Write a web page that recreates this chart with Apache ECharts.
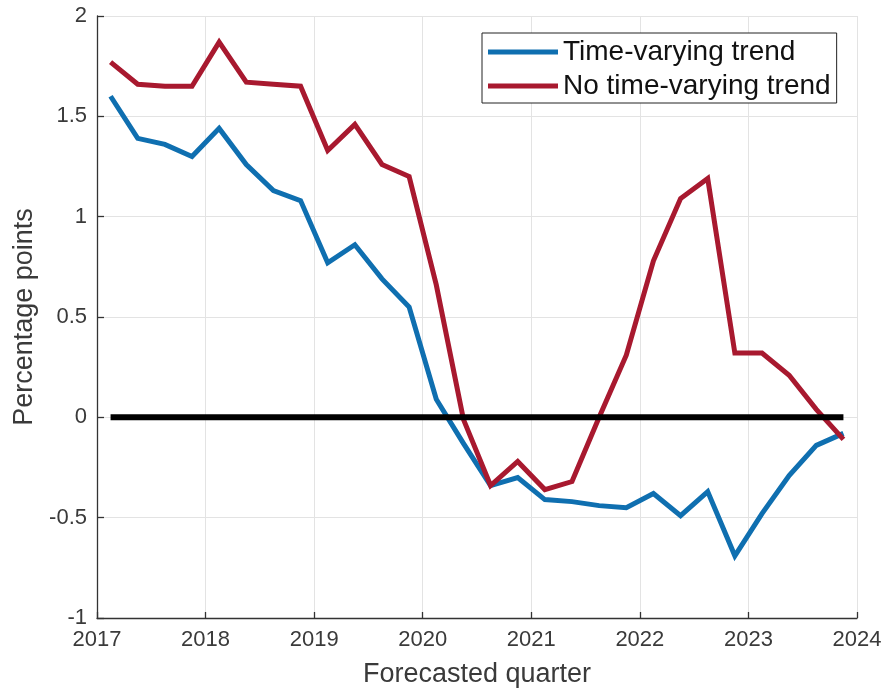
<!DOCTYPE html>
<html>
<head>
<meta charset="utf-8">
<title>Forecast gap by quarter</title>
<script src="https://cdn.jsdelivr.net/npm/echarts@6/dist/echarts.min.js"></script>
<style>
  html, body { margin: 0; padding: 0; background: #fff; }
  #chart { width: 885px; height: 690px; }
</style>
</head>
<body>
<div id="chart"></div>
<script>
// Forecasted quarters (mid-quarter positions in fractional years)
const quarters = [
  2017.125, 2017.375, 2017.625, 2017.875,
  2018.125, 2018.375, 2018.625, 2018.875,
  2019.125, 2019.375, 2019.625, 2019.875,
  2020.125, 2020.375, 2020.625, 2020.875,
  2021.125, 2021.375, 2021.625, 2021.875,
  2022.125, 2022.375, 2022.625, 2022.875,
  2023.125, 2023.375, 2023.625, 2023.875
];

// Percentage points, model with a time-varying trend
const timeVarying = [
  1.60, 1.39, 1.36, 1.30,
  1.44, 1.26, 1.13, 1.08,
  0.77, 0.86, 0.69, 0.55,
  0.09, -0.13, -0.34, -0.30,
  -0.41, -0.42, -0.44, -0.45,
  -0.38, -0.49, -0.37, -0.69,
  -0.48, -0.29, -0.14, -0.08
];

// Percentage points, model without a time-varying trend
const noTimeVarying = [
  1.77, 1.66, 1.65, 1.65,
  1.87, 1.67, 1.66, 1.65,
  1.33, 1.46, 1.26, 1.20,
  0.66, -0.01, -0.34, -0.22,
  -0.36, -0.32, 0.00, 0.31,
  0.78, 1.09, 1.19, 0.32,
  0.32, 0.21, 0.04, -0.11
];

const seriesNames = ['Time-varying trend', 'No time-varying trend'];
const xTicks = { min: 2017, max: 2024, step: 1 };
const yTicks = { min: -1, max: 2, step: 0.5 };

const pair = (xs, ys) => xs.map((x, i) => [x, ys[i]]);
const zeroRef = [[quarters[0], 0], [quarters[quarters.length - 1], 0]];

const FONT = '"Liberation Sans", Arial, Helvetica, sans-serif';
const AXIS_COLOR = '#333333';
const TEXT_COLOR = '#3a3a3a';
const GRID_COLOR = '#e3e3e3';

const chart = echarts.init(document.getElementById('chart'), null, { renderer: 'canvas' });

chart.setOption({
  animation: false,
  backgroundColor: '#ffffff',
  textStyle: { fontFamily: FONT },
  grid: { left: 97, right: 28, top: 16, bottom: 72, containLabel: false, outerBoundsMode: 'none' },
  legend: {
    data: seriesNames,
    orient: 'vertical',
    left: 482,
    top: 33,
    padding: [5, 6, 3, 6],
    itemGap: 6,
    itemWidth: 70,
    itemHeight: 5,
    icon: 'rect',
    borderColor: '#222222',
    borderWidth: 1,
    backgroundColor: '#ffffff',
    textStyle: { fontFamily: FONT, fontSize: 28, lineHeight: 28, color: '#111111', padding: [0, 0, 0, 0] }
  },
  xAxis: {
    type: 'value',
    min: xTicks.min,
    max: xTicks.max,
    interval: xTicks.step,
    name: 'Forecasted quarter',
    nameLocation: 'middle',
    nameGap: 43,
    nameTextStyle: { fontFamily: FONT, fontSize: 27, color: TEXT_COLOR },
    axisLine: { show: true, onZero: false, lineStyle: { color: AXIS_COLOR, width: 1.3 } },
    axisTick: { show: true, inside: true, length: 6, lineStyle: { color: AXIS_COLOR, width: 1.3 } },
    axisLabel: { fontFamily: FONT, fontSize: 22, color: TEXT_COLOR, margin: 11, formatter: v => String(v) },
    splitLine: { show: true, lineStyle: { color: GRID_COLOR, width: 1 } }
  },
  yAxis: {
    type: 'value',
    min: yTicks.min,
    max: yTicks.max,
    interval: yTicks.step,
    name: 'Percentage points',
    nameLocation: 'middle',
    nameGap: 58,
    nameTextStyle: { fontFamily: FONT, fontSize: 27, color: TEXT_COLOR },
    axisLine: { show: true, onZero: false, lineStyle: { color: AXIS_COLOR, width: 1.3 } },
    axisTick: { show: true, inside: true, length: 7, lineStyle: { color: AXIS_COLOR, width: 1.3 } },
    axisLabel: { fontFamily: FONT, fontSize: 22, color: TEXT_COLOR, margin: 10, formatter: v => String(v) },
    splitLine: { show: true, lineStyle: { color: GRID_COLOR, width: 1 } }
  },
  series: [
    {
      name: seriesNames[0],
      type: 'line',
      data: pair(quarters, timeVarying),
      showSymbol: false,
      symbol: 'none',
      color: '#0f6fb0',
      lineStyle: { width: 5, color: '#0f6fb0', join: 'miter' },
      z: 3
    },
    {
      name: seriesNames[1],
      type: 'line',
      data: pair(quarters, noTimeVarying),
      showSymbol: false,
      symbol: 'none',
      color: '#a8192f',
      lineStyle: { width: 5, color: '#a8192f', join: 'miter' },
      z: 4
    },
    {
      name: 'zero',
      type: 'line',
      data: zeroRef,
      showSymbol: false,
      symbol: 'none',
      silent: true,
      color: '#000000',
      lineStyle: { width: 6, color: '#000000' },
      z: 5
    }
  ]
});
</script>
</body>
</html>
